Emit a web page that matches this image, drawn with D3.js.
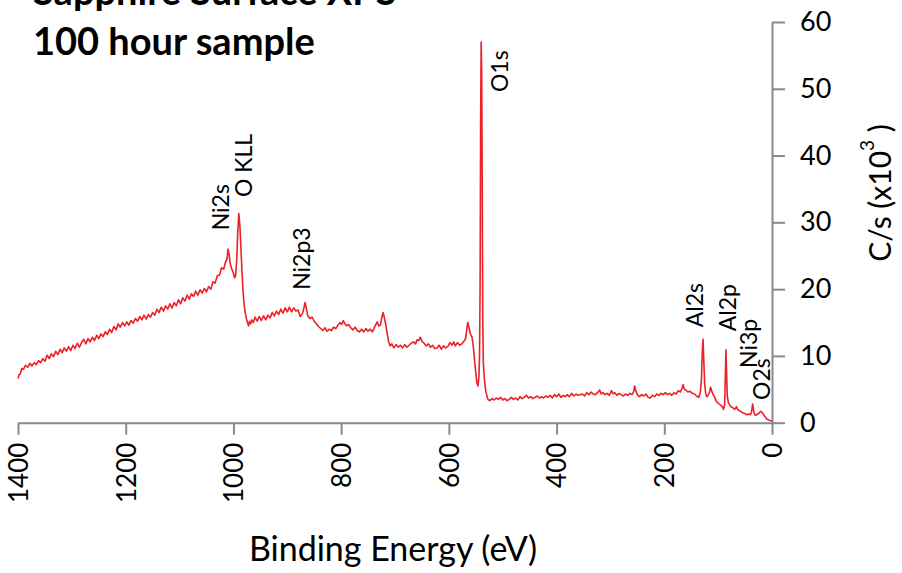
<!DOCTYPE html>
<html>
<head>
<meta charset="utf-8">
<script src="https://cdn.jsdelivr.net/npm/d3@7"></script>
<style>
  body { margin: 0; background: #fff; }
  svg { display: block; font-family: Lato, "Open Sans", sans-serif; }
</style>
</head>
<body>
<div id="chart"></div>
<script>
(function(d3) {
    'use strict';

    // Spectrum: binding energy (eV) and counts (C/s x 10^3)
    var bindingEnergy = [
        1400, 1398, 1396, 1393, 1390, 1386, 1382, 1378, 1374, 1370, 1366, 1362, 1358, 1354, 1350, 1346, 1342, 1338, 1334, 1330,
        1326, 1322, 1318, 1314, 1310, 1306, 1302, 1298, 1294, 1290, 1286, 1282, 1278, 1274, 1270, 1266, 1262, 1258, 1254, 1250,
        1246, 1242, 1238, 1234, 1230, 1226, 1222, 1218, 1214, 1210, 1206, 1202, 1198, 1194, 1190, 1186, 1182, 1178, 1174, 1170,
        1166, 1162, 1158, 1154, 1150, 1146, 1142, 1138, 1134, 1130, 1126, 1122, 1118, 1114, 1110, 1106, 1102, 1098, 1094, 1090,
        1086, 1082, 1078, 1074, 1070, 1066, 1062, 1058, 1054, 1050, 1046, 1042, 1038, 1034, 1030, 1026, 1022, 1018, 1015, 1012,
        1010, 1008, 1006, 1003, 1000, 998, 996, 994, 992, 990, 988, 986, 984, 982, 980, 978, 976, 974, 972, 970,
        968, 966, 963, 960, 956, 952, 948, 944, 940, 936, 932, 928, 924, 920, 916, 912, 908, 904, 900, 896,
        892, 888, 884, 880, 876, 872, 869, 867, 865, 862, 858, 854, 850, 846, 842, 838, 834, 830, 826, 822,
        818, 814, 810, 806, 802, 799, 796, 793, 790, 786, 782, 778, 774, 770, 766, 762, 758, 754, 750, 746,
        742, 738, 735, 733, 730, 727, 725, 722, 720, 717, 715, 712, 709, 706, 702, 698, 694, 690, 686, 682,
        678, 674, 670, 666, 662, 659, 656, 653, 650, 646, 642, 638, 634, 630, 626, 622, 618, 614, 610, 606,
        602, 598, 594, 591, 588, 584, 580, 576, 572, 569, 567, 565, 563, 560, 557, 554, 552, 550, 548, 546,
        544, 543, 542, 541, 540, 539, 538, 537, 536, 534, 532, 530, 528, 526, 524, 520, 516, 512, 508, 504,
        500, 496, 492, 488, 484, 480, 476, 472, 468, 464, 460, 456, 452, 448, 444, 440, 436, 432, 428, 424,
        420, 416, 412, 408, 404, 400, 396, 392, 388, 384, 380, 376, 372, 368, 364, 360, 356, 352, 348, 344,
        340, 336, 332, 328, 324, 320, 317, 314, 310, 306, 302, 298, 295, 292, 288, 284, 280, 276, 272, 268,
        264, 260, 257, 255, 253, 250, 246, 242, 238, 234, 230, 226, 222, 218, 214, 210, 206, 202, 198, 194,
        190, 186, 182, 178, 174, 170, 167, 165, 163, 160, 156, 152, 148, 144, 140, 136, 133, 131, 129.5, 128,
        126.5, 125, 123, 121, 118, 116, 114, 112, 110, 107, 104, 101, 98, 95, 92, 90, 88, 86.5, 85.5, 84.5,
        83, 81, 78, 75, 72, 69, 66, 64, 61, 58, 55, 52, 49, 46, 43, 40, 38, 36, 34, 32,
        30, 27, 24, 21, 18, 15, 12, 9, 6, 3, 0
    ];
    var counts = [
        6.6, 7.2, 7.3, 8.1, 8.0, 8.6, 8.3, 8.9, 8.5, 9.0, 8.7, 9.3, 9.0, 9.6, 9.2, 10.1, 9.6, 10.3, 9.9, 10.7,
        10.2, 11.0, 10.5, 11.2, 10.7, 11.4, 10.8, 11.6, 11.1, 11.9, 11.3, 12.0, 12.5, 11.8, 12.6, 12.1, 12.8, 12.3, 13.1, 12.6,
        13.3, 12.9, 13.6, 13.2, 14.0, 13.5, 14.4, 13.9, 14.8, 14.3, 15.0, 14.5, 15.1, 14.6, 15.3, 14.9, 15.6, 15.2, 15.9, 15.4,
        16.1, 15.5, 16.2, 15.8, 16.5, 16.1, 17.0, 16.5, 17.3, 16.7, 17.5, 17.0, 17.8, 17.2, 18.0, 17.5, 18.4, 17.8, 18.7, 18.2,
        19.1, 18.5, 19.3, 18.9, 19.7, 19.1, 19.9, 19.4, 20.1, 19.6, 20.4, 20.0, 21.1, 20.9, 22.0, 22.1, 23.2, 23.0, 24.0, 24.5,
        26.0, 25.2, 23.8, 23.0, 22.4, 21.7, 22.0, 24.2, 28.5, 31.3, 29.5, 26.0, 22.5, 19.5, 17.6, 16.4, 15.6, 15.0, 14.5, 15.2,
        14.8, 15.4, 15.0, 15.8, 15.2, 15.9, 15.3, 16.0, 15.4, 16.1, 15.7, 16.5, 16.0, 16.7, 16.2, 17.0, 16.4, 17.2, 16.6, 17.3,
        16.6, 17.2, 16.7, 16.9, 15.9, 16.3, 17.2, 18.0, 17.3, 16.0, 15.6, 15.8, 15.2, 14.8, 14.4, 14.1, 13.8, 14.2, 13.7, 14.0,
        13.8, 14.3, 14.1, 14.6, 15.0, 14.7, 15.3, 14.8, 14.5, 14.7, 14.2, 13.9, 14.3, 13.8, 13.6, 14.0, 13.6, 14.1, 13.7, 14.0,
        13.6, 14.3, 14.8, 15.1, 14.5, 14.6, 15.6, 16.5, 15.8, 14.6, 13.6, 12.2, 11.5, 11.8, 11.2, 11.7, 11.3, 11.6, 11.2, 11.7,
        11.3, 11.6, 11.9, 12.1, 11.8, 12.4, 12.3, 12.8, 12.2, 11.9, 11.5, 11.8, 11.3, 11.6, 11.1, 11.2, 11.6, 11.0, 11.5, 11.2,
        11.4, 12.0, 11.6, 12.1, 11.5, 12.0, 11.6, 11.8, 12.2, 12.6, 13.8, 15.0, 14.4, 13.3, 12.8, 11.0, 9.0, 7.5, 6.0, 5.5,
        7.0, 10.5, 20.0, 45.0, 57.0, 52.0, 35.0, 15.0, 9.0, 6.5, 5.0, 4.2, 3.6, 3.4, 3.3, 3.6, 3.4, 3.7, 3.5, 3.8,
        3.4, 3.6, 3.3, 3.5, 3.8, 3.5, 3.7, 3.4, 3.9, 3.6, 3.8, 4.1, 3.7, 3.9, 3.6, 3.8, 4.0, 3.7, 3.9, 3.7,
        4.0, 3.8, 4.1, 3.7, 4.2, 3.9, 4.3, 3.8, 4.1, 3.9, 4.2, 3.9, 4.4, 4.0, 4.3, 4.1, 4.2, 4.3, 4.0, 4.5,
        4.2, 4.6, 4.3, 4.2, 4.5, 4.9, 4.3, 4.5, 4.2, 4.4, 4.1, 4.8, 4.3, 4.5, 4.1, 4.4, 4.2, 4.0, 4.3, 4.1,
        4.4, 4.2, 4.6, 5.5, 4.8, 4.2, 3.9, 4.2, 4.0, 4.3, 3.8, 3.7, 4.1, 3.9, 4.3, 4.1, 4.4, 4.2, 4.5, 4.2,
        4.4, 4.1, 4.5, 4.3, 4.8, 4.6, 5.2, 5.7, 5.0, 4.9, 4.6, 4.7, 4.4, 4.3, 4.0, 3.8, 4.6, 6.5, 10.5, 12.5,
        9.0, 5.8, 4.3, 3.9, 4.2, 4.6, 5.3, 4.8, 4.3, 3.9, 3.3, 3.0, 2.8, 2.6, 2.4, 2.0, 2.6, 7.5, 10.9, 8.0,
        4.0, 3.0, 2.6, 2.3, 2.2, 2.0, 2.4, 2.0, 1.8, 1.7, 1.5, 1.4, 1.3, 1.2, 1.3, 1.2, 1.6, 2.8, 1.8, 1.2,
        1.1, 1.3, 1.4, 1.7, 1.5, 1.1, 0.8, 0.5, 0.4, 0.3, 0.25
    ];

    // Peak annotations: label, binding energy and count level where the text starts
    var peakNames = ['Ni2s', 'O KLL', 'Ni2p3', 'O1s', 'Al2s', 'Al2p', 'Ni3p', 'O2s'];
    var peakEnergy = [1023, 981, 874, 505, 143, 82, 43, 20];
    var peakLevel = [28.8, 33.8, 19.9, 49.5, 14.3, 13.7, 8.2, 3.4];

    // Tick labels
    var xTicks = [1400, 1200, 1000, 800, 600, 400, 200, 0];
    var yTicks = [0, 10, 20, 30, 40, 50, 60];

    var width = 902;
    var height = 573;
    var axisColor = '#898989';
    var lineColor = '#ec2128';

    var svg = d3.select('#chart')
        .append('svg')
        .attr('width', width)
        .attr('height', height);

    var x = d3.scaleLinear().domain([1400, 0]).range([18, 772]);
    var y = d3.scaleLinear().domain([0, 60]).range([422.7, 22]);

    // Title (first line runs off the top edge, as in the original)
    var title = svg.append('text')
        .attr('x', 33)
        .attr('font-weight', 'bold')
        .attr('font-size', 38)
        .attr('fill', '#000');
    title.append('tspan').attr('x', 33).attr('y', 5).text('Sapphire Surface XPS');
    title.append('tspan').attr('x', 33).attr('y', 55).text('100 hour sample');

    // X axis
    var xAxis = svg.append('g')
        .attr('transform', 'translate(0,' + y(0) + ')')
        .call(d3.axisBottom(x).tickValues(xTicks).tickSize(12).tickSizeOuter(0)
            .tickFormat(d3.format('d')));

    xAxis.selectAll('text')
        .attr('transform', 'rotate(-90)')
        .attr('x', -20)
        .attr('y', 0)
        .attr('dy', '0.36em')
        .attr('text-anchor', 'end')
        .attr('font-size', 26)
        .attr('font-family', 'Lato, sans-serif')
        .attr('fill', '#000');

    // Y axis on the right
    var yAxis = svg.append('g')
        .attr('transform', 'translate(' + x(0) + ',0)')
        .call(d3.axisRight(y).tickValues(yTicks).tickSize(13).tickPadding(15).tickSizeOuter(0));

    yAxis.selectAll('text')
        .attr('font-size', 27)
        .attr('font-family', 'Lato, sans-serif')
        .attr('fill', '#000');

    svg.selectAll('.domain, .tick line')
        .attr('stroke', axisColor)
        .attr('stroke-width', 2);

    // Spectrum line
    var spectrum = bindingEnergy.map(function(e, i) {
        return { energy: e, value: counts[i] };
    });

    var line = d3.line()
        .x(function(d) { return x(d.energy); })
        .y(function(d) { return y(d.value); });

    svg.append('path')
        .datum(spectrum)
        .attr('d', line)
        .attr('fill', 'none')
        .attr('stroke', lineColor)
        .attr('stroke-width', 1.6)
        .attr('stroke-linejoin', 'round');

    // Peak labels
    svg.selectAll('.peak')
        .data(peakNames)
        .enter()
        .append('text')
        .attr('class', 'peak')
        .attr('transform', function(d, i) {
            return 'translate(' + x(peakEnergy[i]) + ',' + y(peakLevel[i]) + ') rotate(-90)';
        })
        .attr('dy', '0.36em')
        .attr('font-size', 23)
        .attr('fill', '#000')
        .text(function(d) { return d; });

    // Axis titles
    svg.append('text')
        .attr('x', 393)
        .attr('y', 561)
        .attr('text-anchor', 'middle')
        .attr('font-size', 34)
        .attr('fill', '#000')
        .text('Binding Energy (eV)');

    var yTitle = svg.append('text')
        .attr('transform', 'translate(880,193) rotate(-90)')
        .attr('dy', '0.36em')
        .attr('text-anchor', 'middle')
        .attr('font-size', 30)
        .attr('fill', '#000');
    yTitle.append('tspan').text('C/s (x10');
    yTitle.append('tspan').attr('font-size', 19).attr('dy', '-0.9em').text('3');
    yTitle.append('tspan').attr('dy', '0.57em').text(' )');

})(window.d3);
</script>
</body>
</html>
